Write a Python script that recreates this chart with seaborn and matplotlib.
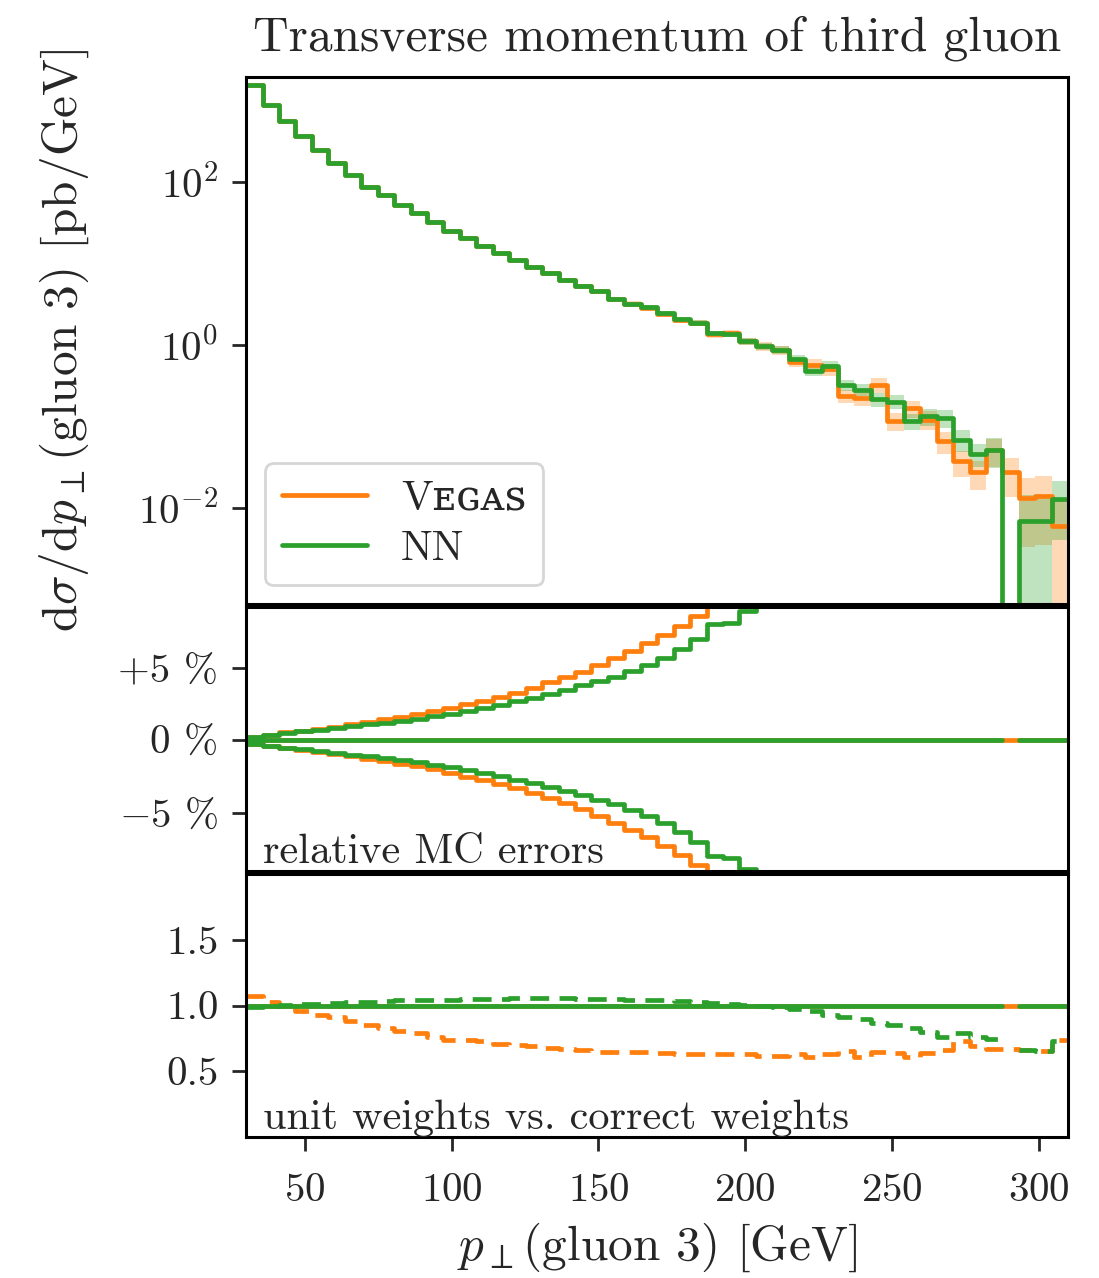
import numpy as np
import pandas as pd
import seaborn as sns
import matplotlib.pyplot as plt

# 50 bins of 5.6 GeV from 30 to 310 GeV
bin_edges = np.linspace(30, 310, 51)

# d sigma / d pT [pb/GeV]
vegas_xs = [1550, 881, 550, 360, 245, 170, 122, 87, 68, 52,
            41, 32, 25, 20.4, 16.4, 13.3, 11.0, 9.0, 7.6, 6.3,
            5.3, 4.5, 3.6, 3.2, 2.85, 2.4, 2.0, 1.86, 1.34, 1.38,
            1.10, 0.955, 0.86, 0.62, 0.57, 0.50, 0.234, 0.224, 0.32, 0.115,
            0.166, 0.12, 0.065, 0.037, 0.027, 0.051, 0.027, 0.0132, 0.0138, 0.0059]
nn_xs = [1550, 881, 550, 360, 245, 170, 122, 87, 68, 52,
         41, 32, 25, 20.4, 16.4, 13.3, 11.0, 9.0, 7.6, 6.3,
         5.3, 4.5, 3.6, 3.2, 2.9, 2.45, 2.04, 1.86, 1.38, 1.36,
         1.10, 0.955, 0.87, 0.66, 0.47, 0.55, 0.32, 0.28, 0.214, 0.20,
         0.115, 0.132, 0.126, 0.068, 0.046, 0.051, 0.0, 0.0068, 0.0068, 0.0126]

# relative MC errors [%]
vegas_err = [0.25, 0.4, 0.55, 0.68, 0.8, 0.95, 1.1, 1.25, 1.45, 1.6,
             1.8, 2.0, 2.25, 2.5, 2.75, 3.0, 3.3, 3.6, 4.0, 4.35,
             4.75, 5.2, 5.7, 6.2, 6.7, 7.3, 7.9, 8.6, 9.4, 10,
             11, 12, 13, 14, 16, 17, 19, 21, 21, 25,
             24, 26, 30, 35, 40, 38, 50, 75, 75, 110]
nn_err = [0.25, 0.38, 0.5, 0.62, 0.74, 0.85, 0.98, 1.1, 1.23, 1.37,
          1.5, 1.68, 1.85, 2.05, 2.25, 2.45, 2.7, 2.95, 3.2, 3.5,
          3.8, 4.1, 4.4, 4.8, 5.2, 5.7, 6.3, 7.0, 8.0, 8.1,
          8.9, 10.5, 11.5, 12.5, 13.5, 15, 16, 17, 19, 20,
          22, 23, 25, 30, 32, 40, np.nan, 110, 110, 68]

# unit weights / correct weights
vegas_unit = [1.07, 1.03, 0.995, 0.957, 0.93, 0.91, 0.88, 0.85, 0.83, 0.81,
              0.79, 0.76, 0.74, 0.74, 0.73, 0.71, 0.70, 0.69, 0.68, 0.67,
              0.665, 0.65, 0.65, 0.65, 0.65, 0.64, 0.63, 0.63, 0.63, 0.63,
              0.63, 0.62, 0.62, 0.63, 0.61, 0.63, 0.655, 0.61, 0.65, 0.64,
              0.61, 0.64, 0.665, 0.73, 0.69, 0.67, 0.67, 0.665, 0.655, 0.74]
nn_unit = [0.99, 1.0, 1.005, 1.01, 1.015, 1.02, 1.025, 1.03, 1.035, 1.04,
           1.04, 1.045, 1.045, 1.05, 1.05, 1.05, 1.055, 1.055, 1.055, 1.055,
           1.05, 1.05, 1.05, 1.045, 1.045, 1.04, 1.035, 1.03, 1.02, 1.01,
           1.005, 1.0, 0.99, 0.975, 0.96, 0.93, 0.91, 0.90, 0.87, 0.85,
           0.83, 0.80, 0.76, 0.79, 0.76, 0.745, np.nan, 0.66, 0.655, 0.73]

series = [('Vᴇɢᴀꜱ', '#ff7f0e', vegas_xs, vegas_err, vegas_unit),
          ('NN', '#2ca02c', nn_xs, nn_err, nn_unit)]

sns.set_theme(style='ticks')
plt.rcParams['font.family'] = ['cmr10', 'DejaVu Serif', 'DejaVu Sans']
plt.rcParams['mathtext.fontset'] = 'cm'
plt.rcParams['axes.formatter.use_mathtext'] = True
plt.rcParams['axes.unicode_minus'] = True
fs_tick = 29.5
fs_text = 30.5
fs_lab = 35.5

fig, (ax1, ax2, ax3) = plt.subplots(3, 1, sharex=True, figsize=(10.99, 12.78), dpi=100,
                                    gridspec_kw={'height_ratios': [2, 1, 1]})
fig.subplots_adjust(left=0.224, right=0.972, top=0.94, bottom=0.11, hspace=0.008)


def ext(v):
    v = np.asarray(v, dtype=float)
    return np.append(v, v[-1])


lw = 3.4
for name, col, xs, err, unit in series:
    xs = np.asarray(xs, dtype=float)
    rel = np.asarray(err, dtype=float) / 100
    df = pd.DataFrame({'x': bin_edges, 'y': ext(xs)})
    sns.lineplot(data=df, x='x', y='y', ax=ax1, color=col, lw=lw,
                 drawstyle='steps-post', label=name)
    lo = np.clip(xs * (1 - np.nan_to_num(rel)), 1e-7, None)
    hi = xs * (1 + np.nan_to_num(rel))
    ax1.fill_between(bin_edges, ext(lo), ext(hi), step='post', color=col, alpha=0.3, lw=0)

    zero = np.where(xs > 0, 0.0, np.nan)
    for y in (zero, rel * 100, -rel * 100):
        ax2.step(bin_edges, ext(y), where='post', color=col, lw=lw)

    one = np.where(xs > 0, 1.0, np.nan)
    ax3.step(bin_edges, ext(one), where='post', color=col, lw=lw)
    ax3.step(bin_edges, ext(unit), where='post', color=col, lw=lw, ls=(0, (4, 2.2)))

ax1.set_yscale('log')
ax1.set_ylim(6.5e-4, 1.95e3)
ax1.set_yticks([1e-2, 1e0, 1e2])
ax1.yaxis.set_minor_locator(plt.NullLocator())
ax1.set_ylabel(r'$\mathrm{d}\sigma/\mathrm{d}p_\perp(\mathrm{gluon\ 3})$ [pb/GeV]', fontsize=fs_lab, labelpad=34)
ax1.set_title('Transverse momentum of third gluon', fontsize=fs_lab, pad=19)
leg = ax1.legend(loc='lower left', fontsize=fs_text, frameon=True, fancybox=True,
                 handlelength=2.0, handletextpad=0.8, borderpad=0.4, labelspacing=0.3,
                 borderaxespad=0.45, bbox_to_anchor=(0.0, 0.0))
leg.get_frame().set_edgecolor('#cccccc')
leg.get_frame().set_linewidth(2)

ax2.set_ylim(-9, 9.2)
ax2.set_yticks([-5, 0, 5])
ax2.set_yticklabels([r'$-5$ %', '0 %', '+5 %'])
ax2.text(0.02, 0.0, 'relative MC errors', transform=ax2.transAxes, fontsize=fs_text, va='bottom')

ax3.set_ylim(0, 2)
ax3.set_yticks([0.5, 1.0, 1.5])
ax3.set_yticklabels(['0.5', '1.0', '1.5'])
ax3.text(0.02, 0.0, 'unit weights vs. correct weights', transform=ax3.transAxes, fontsize=fs_text, va='bottom')
ax3.set_xlim(30, 310)
ax3.set_xticks([50, 100, 150, 200, 250, 300])
ax3.set_xlabel(r'$p_\perp$(gluon 3) [GeV]', fontsize=fs_lab, labelpad=8)

for ax in (ax1, ax2, ax3):
    ax.tick_params(labelsize=fs_tick, length=10, width=2, direction='out', pad=10)
    ax.tick_params(axis='x', pad=16)
    for s in ax.spines.values():
        s.set_linewidth(2.2)
        s.set_color('black')
for ax in (ax1, ax2):
    ax.tick_params(axis='x', bottom=False, labelbottom=False)
    ax.set_xlabel('')

fig.savefig('out.png', dpi=100)
